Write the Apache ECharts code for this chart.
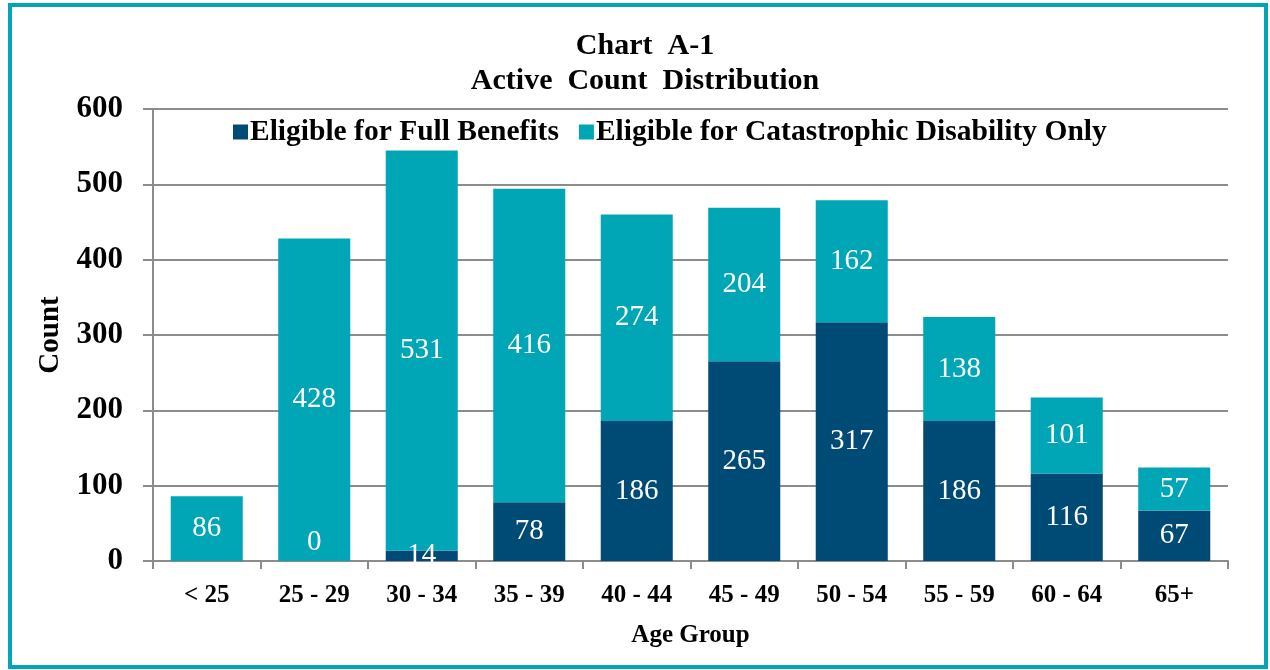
<!DOCTYPE html>
<html>
<head>
<meta charset="utf-8">
<script src="https://cdn.jsdelivr.net/npm/echarts@6/dist/echarts.min.js"></script>
<style>
  html, body { margin: 0; padding: 0; background: #fff; }
  #chart { width: 1270px; height: 670px; }
</style>
</head>
<body>
<div id="chart"></div>
<script>
// age groups on the x axis
var ageGroups = ["< 25", "25 - 29", "30 - 34", "35 - 39", "40 - 44", "45 - 49", "50 - 54", "55 - 59", "60 - 64", "65+"];
// eligible for full benefits
var fullBenefits = [0, 0, 14, 78, 186, 265, 317, 186, 116, 67];
// eligible for catastrophic disability only
var catastrophicOnly = [86, 428, 531, 416, 274, 204, 162, 138, 101, 57];
var yTicks = [0, 100, 200, 300, 400, 500, 600];

var serif = "'Liberation Serif', 'Times New Roman', serif";
var darkBlue = "#004A76";
var teal = "#00A6B6";

var chart = echarts.init(document.getElementById("chart"));

// bars with value 0 get the label above the bar, like Excel does
function withLabels(arr, skipFirst) {
  return arr.map(function (v, i) {
    if (skipFirst && i === 0) return { value: v, label: { show: false } };
    if (v === 0) return { value: v, label: { position: "top", distance: 4 } };
    return v;
  });
}

var barLabel = {
  show: true,
  position: "inside",
  color: "#fff",
  fontFamily: serif,
  fontSize: 29
};

chart.setOption({
  backgroundColor: "#fff",
  animation: false,
  title: {
    text: "Chart  A-1\nActive  Count  Distribution",
    left: 640,
    top: 24,
    textAlign: "center",
    textStyle: {
      fontFamily: serif,
      fontWeight: "bold",
      fontSize: 30,
      lineHeight: 35,
      color: "#000"
    }
  },
  legend: {
    top: 112,
    left: 228,
    itemWidth: 15,
    itemHeight: 15,
    itemGap: 20,
    icon: "rect",
    textStyle: {
      fontFamily: serif,
      fontWeight: "bold",
      fontSize: 29.5,
      color: "#000",
      padding: [0, 0, 0, -3]
    },
    data: ["Eligible for Full Benefits", "Eligible for Catastrophic Disability Only"]
  },
  graphic: [{
    type: "rect",
    shape: { x: 10, y: 5, width: 1256, height: 662 },
    style: { fill: "none", stroke: teal, lineWidth: 4 },
    z: 100
  }],
  grid: { left: 153, right: 42, top: 109, bottom: 109 },
  xAxis: {
    type: "category",
    data: ageGroups,
    name: "Age Group",
    nameLocation: "middle",
    nameGap: 62,
    nameTextStyle: { fontFamily: serif, fontWeight: "bold", fontSize: 25, color: "#000" },
    axisLine: { lineStyle: { color: "#8c8c8c", width: 2 } },
    axisTick: { show: true, length: 8, lineStyle: { color: "#8c8c8c", width: 2 } },
    axisLabel: { fontFamily: serif, fontWeight: "bold", fontSize: 25, color: "#000", margin: 22 }
  },
  yAxis: {
    type: "value",
    min: yTicks[0],
    max: yTicks[yTicks.length - 1],
    interval: 100,
    name: "Count",
    nameLocation: "middle",
    nameGap: 88,
    nameTextStyle: { fontFamily: serif, fontWeight: "bold", fontSize: 29, color: "#000" },
    axisLine: { show: true, lineStyle: { color: "#8c8c8c", width: 2 } },
    axisTick: { show: true, length: 10, inside: false, lineStyle: { color: "#8c8c8c", width: 2 } },
    axisLabel: { fontFamily: serif, fontWeight: "bold", fontSize: 31, color: "#000", margin: 30 },
    splitLine: { lineStyle: { color: "#8c8c8c", width: 2 } }
  },
  series: [
    {
      name: "Eligible for Full Benefits",
      type: "bar",
      stack: "total",
      barCategoryGap: "33%",
      itemStyle: { color: darkBlue },
      label: barLabel,
      data: withLabels(fullBenefits, true)
    },
    {
      name: "Eligible for Catastrophic Disability Only",
      type: "bar",
      stack: "total",
      barCategoryGap: "33%",
      itemStyle: { color: teal },
      label: barLabel,
      data: catastrophicOnly
    }
  ]
});
</script>
</body>
</html>
